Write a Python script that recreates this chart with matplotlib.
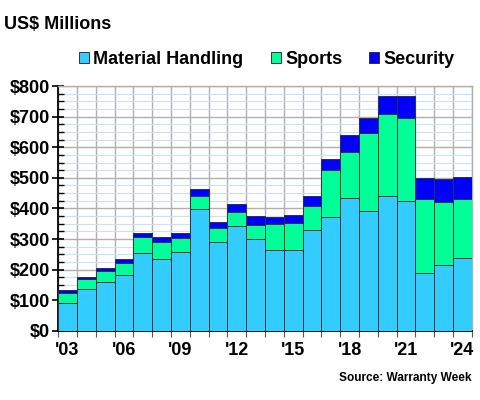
import matplotlib
matplotlib.use('Agg')
import matplotlib.pyplot as plt
import numpy as np
from matplotlib.ticker import MultipleLocator, FixedLocator, FuncFormatter

plt.rcParams['font.family'] = ['Liberation Sans', 'DejaVu Sans']
plt.rcParams['font.weight'] = 'bold'

years = np.arange(2003, 2025)
material_handling = [92, 136, 158, 182, 255, 235, 258, 397, 290, 341, 299,
                     264, 264, 331, 373, 435, 391, 441, 424, 189, 216, 239]
sports = [32, 32, 36, 40, 52, 55, 45, 44, 47, 46, 46,
          84, 87, 78, 152, 148, 254, 267, 270, 243, 205, 192]
security = [9, 9, 12, 12, 11, 16, 15, 21, 18, 27, 30,
            25, 27, 30, 36, 56, 49, 59, 73, 66, 76, 71]
year_labels = ["'03", "'06", "'09", "'12", "'15", "'18", "'21", "'24"]

fig = plt.figure(figsize=(4.8, 4.0), dpi=100)
ax = fig.add_axes([0.121, 0.173, 0.862, 0.612])

mh = np.array(material_handling)
sp = np.array(sports)
ax.bar(years, mh, width=1.0, color='#33CCFF', edgecolor='#333333', linewidth=0.7,
       label='Material Handling', zorder=3)
ax.bar(years, sp, width=1.0, bottom=mh, color='#00FF99', edgecolor='#333333',
       linewidth=0.7, label='Sports', zorder=3)
ax.bar(years, security, width=1.0, bottom=mh + sp, color='#0000FF',
       edgecolor='#333333', linewidth=0.7, label='Security', zorder=3)

ax.set_xlim(2002.5, 2024.5)
ax.set_ylim(0, 800)

# y axis
ax.yaxis.set_major_locator(MultipleLocator(100))
ax.yaxis.set_minor_locator(MultipleLocator(25))
ax.yaxis.set_major_formatter(FuncFormatter(lambda v, p: '$%d' % v))
ax.tick_params(axis='y', which='major', direction='inout', length=8, width=1.2,
               labelsize=13, pad=2)
ax.tick_params(axis='y', which='minor', direction='in', length=4, width=1.0)

# x axis: ticks at bar boundaries, labels at every third bar
ax.xaxis.set_major_locator(FixedLocator(np.arange(2002.5, 2025, 1.0)))
ax.xaxis.set_minor_locator(FixedLocator(years[::3]))
ax.set_xticklabels([], minor=False)
ax.set_xticklabels(year_labels, minor=True)
ax.tick_params(axis='x', which='major', direction='out', length=4, width=0.8,
               color='#555555')
ax.tick_params(axis='x', which='minor', length=0, labelsize=13, pad=8)

ax.grid(which='minor', axis='y', color='#C8E0F8', linewidth=0.8, zorder=0)
ax.grid(which='major', axis='y', color='#B0B0B0', linewidth=1.0, zorder=1)
ax.grid(which='major', axis='x', color='#B0B0B0', linewidth=1.0, zorder=1)

for s in ['top', 'right']:
    ax.spines[s].set_color('#B0B0B0')
    ax.spines[s].set_linewidth(1.0)
ax.spines['left'].set_linewidth(1.3)
ax.spines['bottom'].set_linewidth(1.3)

fig.text(0.008, 0.938, 'US$ Millions', fontsize=13, fontweight='bold',
         va='center', ha='left')
fig.legend(loc='center', bbox_to_anchor=(0.556, 0.852), ncol=3, frameon=False,
           fontsize=13, handlelength=0.55, handleheight=0.55, handletextpad=0.25,
           columnspacing=1.5, borderpad=0.1)
fig.text(0.983, 0.055, 'Source: Warranty Week', fontsize=8.6, fontweight='bold',
         ha='right', va='center')

fig.savefig('out.png', dpi=100)
